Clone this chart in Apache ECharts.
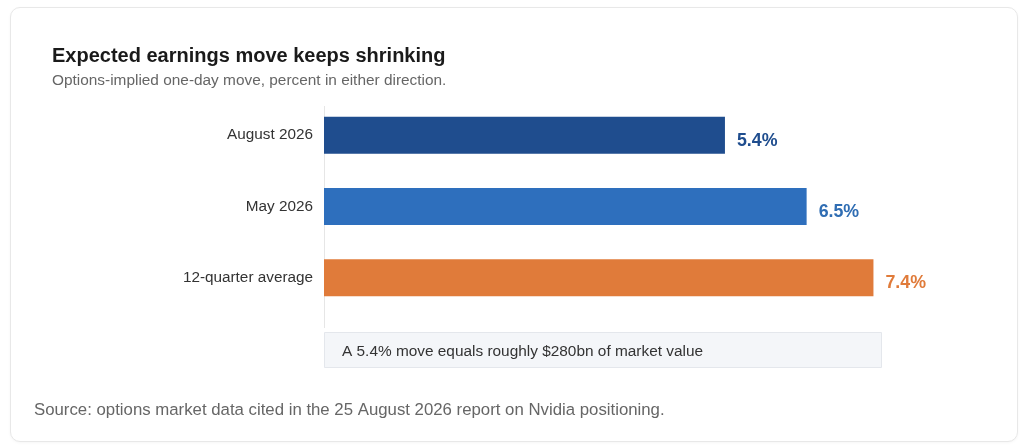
<!DOCTYPE html>
<html>
<head>
<meta charset="utf-8">
<script src="https://cdn.jsdelivr.net/npm/echarts@6/dist/echarts.min.js"></script>
<style>
  html, body { margin: 0; padding: 0; background: #ffffff; }
  #card { position: absolute; left: 10px; top: 7px; width: 1006px; height: 433px;
          border: 1px solid #e8e8e8; border-radius: 10px; background: #ffffff;
          box-shadow: 0 1px 3px rgba(0,0,0,0.04); }
  #chart { position: absolute; left: 0; top: 0; width: 1024px; height: 448px; }
</style>
</head>
<body>
<div id="card"></div>
<div id="chart"></div>
<script>
const categories = ['August 2026', 'May 2026', '12-quarter average'];
const values = [5.4, 6.5, 7.4];
const titleText = 'Expected earnings move keeps shrinking';
const subtitleText = 'Options-implied one-day move, percent in either direction.';
const noteText = 'A 5.4% move equals roughly $280bn of market value';
const sourceText = 'Source: options market data cited in the 25 August 2026 report on Nvidia positioning.';

const palette = ['#1f4d8e', '#2e6fbd', '#e07b3a'];
const labelPalette = ['#1f4d8e', '#2f6db3', '#e07b3a'];
const FONT = '"Liberation Sans", Arial, Helvetica, sans-serif';

const chart = echarts.init(document.getElementById('chart'), null, { renderer: 'canvas' });
chart.setOption({
  backgroundColor: 'transparent',
  animation: false,
  textStyle: { fontFamily: FONT },
  title: [
    { text: titleText, left: 47, top: 41,
      textStyle: { fontSize: 20, fontWeight: 'bold', color: '#1a1a1a', fontFamily: FONT } },
    { text: subtitleText, left: 47, top: 68,
      textStyle: { fontSize: 15.4, fontWeight: 'normal', color: '#666666', fontFamily: FONT } },
    { text: sourceText, left: 29, top: 397,
      textStyle: { fontSize: 16.8, fontWeight: 'normal', color: '#666666', fontFamily: FONT } }
  ],
  grid: { left: 324, top: 99.5, height: 214, right: 106, containLabel: false },
  xAxis: {
    type: 'value', min: 0, max: 8,
    show: false
  },
  yAxis: {
    type: 'category', data: categories, inverse: true,
    axisLine: { show: false }, axisTick: { show: false }, splitLine: { show: false },
    axisLabel: { fontSize: 15.3, color: '#333333', margin: 11, fontFamily: FONT,
                 padding: [3, 0, 0, 0] }
  },
  series: [{
    type: 'bar',
    barWidth: 37,
    data: values.map((v, i) => ({
      value: v,
      itemStyle: { color: palette[i] },
      label: { color: labelPalette[i] }
    })),
    label: {
      show: true, position: 'right', distance: 12, offset: [0, 5.5],
      fontSize: 17.8, fontWeight: 'bold', fontFamily: FONT,
      formatter: p => p.value.toFixed(1) + '%'
    }
  }],
  graphic: [
    { type: 'line', shape: { x1: 324.5, y1: 106, x2: 324.5, y2: 328 },
      style: { stroke: '#e6e6e6', lineWidth: 1 }, z: 0 },
    { type: 'rect', shape: { x: 324.5, y: 332.5, width: 557, height: 35 },
      style: { fill: '#f4f6f9', stroke: '#e4e7ec', lineWidth: 1 } },
    { type: 'text', x: 342, y: 351.5,
      style: { text: noteText, fontSize: 15.4, fill: '#333333', fontFamily: FONT,
               verticalAlign: 'middle', align: 'left' } }
  ]
});
</script>
</body>
</html>
